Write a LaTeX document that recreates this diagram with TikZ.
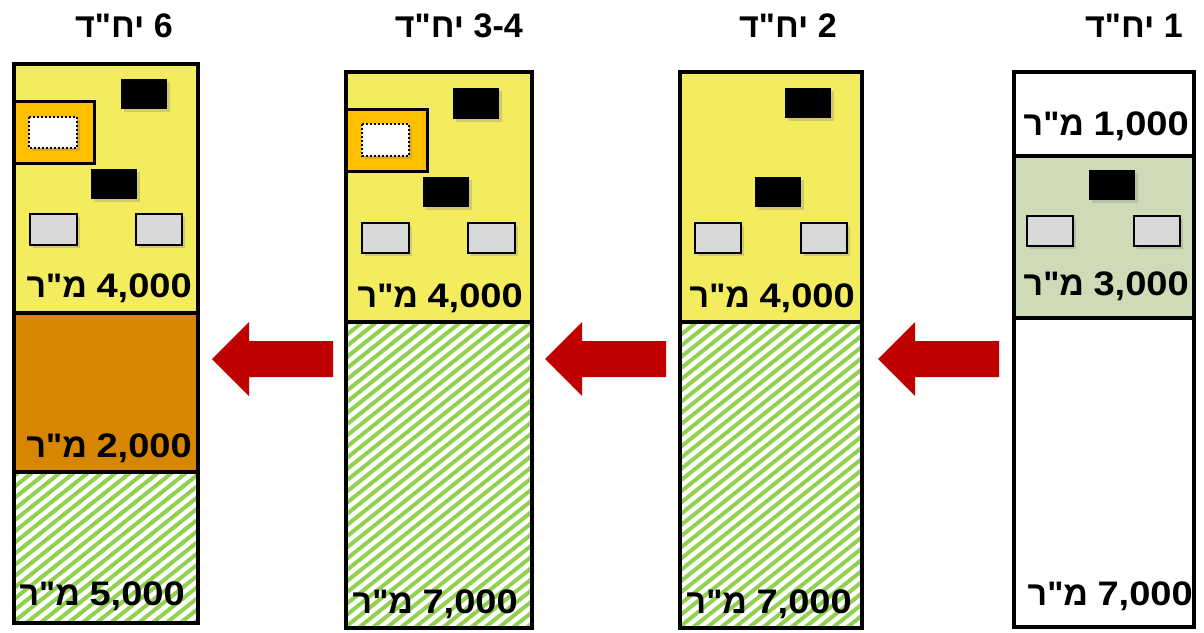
\documentclass[tikz,border=0pt]{standalone}
\usepackage{fontspec}
\usepackage{xcolor}
\usepackage{tikz}
\usetikzlibrary{shadows}
\newfontfamily\hebfont[Script=Hebrew]{Liberation Sans}
\newfontfamily\widefont[FakeStretch=1.12]{Liberation Sans}
\TeXXeTstate=1
\definecolor{lotyellow}{RGB}{243,236,94}
\definecolor{lotorange}{RGB}{214,134,0}
\definecolor{lotamber}{RGB}{255,192,0}
\definecolor{lotsage}{RGB}{207,219,182}
\definecolor{lotgreen}{RGB}{146,208,80}
\definecolor{lotgrey}{RGB}{217,217,217}
\definecolor{lotred}{RGB}{192,0,0}

\begin{document}
\begin{tikzpicture}[x=1pt, y=-1pt]
\tikzstyle{wall}=[draw=black, line width=4pt]
\tikzstyle{bldg}=[fill=black, drop shadow={shadow xshift=3pt, shadow yshift=-3pt, opacity=0.3}]
\tikzstyle{shed}=[fill=lotgrey, draw=black, line width=2pt, drop shadow={shadow xshift=3pt, shadow yshift=-3pt, opacity=0.3}]
\tikzstyle{plot}=[fill=lotamber, draw=black, line width=3pt]
\tikzstyle{spot}=[fill=white, draw=black, line width=2pt, dotted, drop shadow={shadow xshift=3pt, shadow yshift=-3pt, opacity=0.3}]
\tikzstyle{stripe}=[draw=lotgreen, line width=4pt]
\tikzstyle{move}=[fill=lotred]
\tikzstyle{lbl}=[font=\hebfont\bfseries\fontsize{34}{34}\selectfont, inner sep=0pt, anchor=base east]
\useasboundingbox (0,0) rectangle (1204,632);

% section fills
\path[fill=lotyellow] (14,64) rectangle (198,313);
\path[fill=lotorange] (14,313) rectangle (198,472);
\path[fill=lotyellow] (346,72) rectangle (532,322);
\path[fill=lotyellow] (680,72) rectangle (862,322);
\path[fill=lotsage] (1014,156) rectangle (1194,318);

% green hatching
\foreach \xa/\ya/\xb/\yb in {14/472/198/623, 346/322/532/628, 680/322/862/628} {
  \begin{scope}
    \clip (\xa,\ya) rectangle (\xb,\yb);
    \foreach \i in {-400,-386,...,200}
      \draw[stripe] (\xa+\i,\yb+5) -- ++(400,-320);
  \end{scope}
}

% column 6
\path[bldg] (121,79) rectangle (167,109);
\path[plot] (14,101) rectangle (94,163);
\path[spot] (29,117) rectangle (77,148);
\path[bldg] (91,169) rectangle (137,199);
\path[shed] (30,214) rectangle (77,245);
\path[shed] (136,214) rectangle (182,245);

% column 3-4
\path[bldg] (453,88) rectangle (499,119);
\path[plot] (346,109) rectangle (427,171);
\path[spot] (362,124) rectangle (409,156);
\path[bldg] (423,177) rectangle (469,207);
\path[shed] (362,223) rectangle (409,253);
\path[shed] (468,223) rectangle (515,253);

% column 2
\path[bldg] (785,88) rectangle (831,118);
\path[bldg] (755,177) rectangle (801,207);
\path[shed] (695,223) rectangle (741,253);
\path[shed] (801,223) rectangle (847,253);

% column 1
\path[bldg] (1089,170) rectangle (1135,200);
\path[shed] (1027,216) rectangle (1073,246);
\path[shed] (1134,216) rectangle (1180,246);

% outlines
\draw[wall] (14,313) -- (198,313) (14,472) -- (198,472);
\draw[wall] (14,64) rectangle (198,623);
\draw[wall] (346,322) -- (532,322);
\draw[wall] (346,72) rectangle (532,628);
\draw[wall] (680,322) -- (862,322);
\draw[wall] (680,72) rectangle (862,628);
\draw[wall] (1014,156) -- (1194,156) (1014,318) -- (1194,318);
\draw[wall] (1014,72) rectangle (1194,627);

% arrows
\foreach \x in {212,545,878}
  \path[move] (\x,359) -- ++(37,-37) -- ++(0,19) -- ++(84,0) -- ++(0,36) -- ++(-84,0) -- ++(0,19) -- cycle;

% titles
\node[lbl] (t6) at (173,37) {\beginR 6 יח"ד\endR};
\node[lbl] (t34) at (523,37) {\beginR\beginL 3-4\endL{} יח"ד\endR};
\node[lbl] (t2) at (837,37) {\beginR 2 יח"ד\endR};
\node[lbl] (t1) at (1183,37) {\beginR 1 יח"ד\endR};

% areas
\node[lbl] (c6a) at (192,297) {\beginR\beginL{\widefont\bfseries 4,000}\endL{} מ"ר\endR};
\node[lbl] (c6b) at (192,457) {\beginR\beginL{\widefont\bfseries 2,000}\endL{} מ"ר\endR};
\node[lbl] (c6c) at (185,605) {\beginR\beginL{\widefont\bfseries 5,000}\endL{} מ"ר\endR};
\node[lbl] (c34a) at (523,307) {\beginR\beginL{\widefont\bfseries 4,000}\endL{} מ"ר\endR};
\node[lbl] (c34b) at (518,613) {\beginR\beginL{\widefont\bfseries 7,000}\endL{} מ"ר\endR};
\node[lbl] (c2a) at (855,307) {\beginR\beginL{\widefont\bfseries 4,000}\endL{} מ"ר\endR};
\node[lbl] (c2b) at (852,613) {\beginR\beginL{\widefont\bfseries 7,000}\endL{} מ"ר\endR};
\node[lbl] (c1a) at (1189,135) {\beginR\beginL{\widefont\bfseries 1,000}\endL{} מ"ר\endR};
\node[lbl] (c1b) at (1189,295) {\beginR\beginL{\widefont\bfseries 3,000}\endL{} מ"ר\endR};
\node[lbl] (c1c) at (1193,605) {\beginR\beginL{\widefont\bfseries 7,000}\endL{} מ"ר\endR};
\end{tikzpicture}
\end{document}
